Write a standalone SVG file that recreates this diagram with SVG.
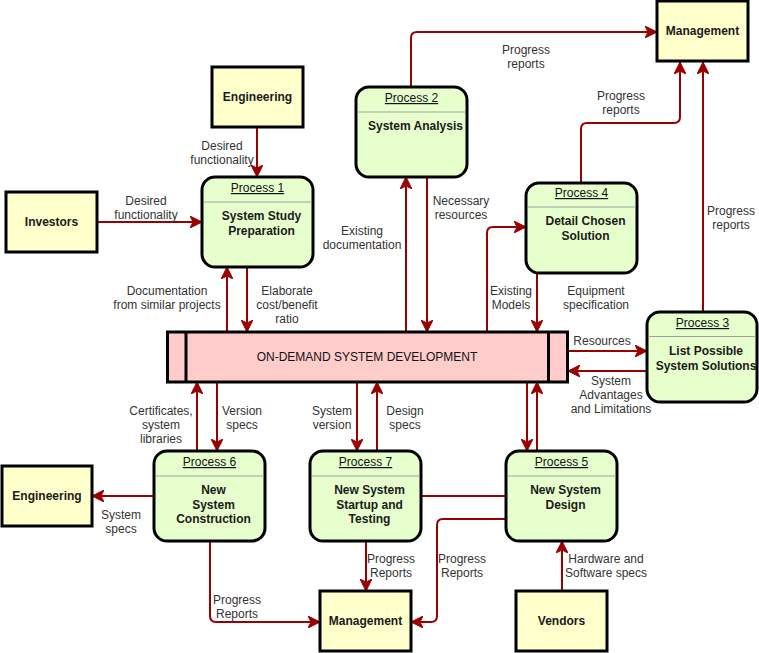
<svg xmlns="http://www.w3.org/2000/svg" width="759" height="653" viewBox="0 0 759 653">
<style>
.ext{fill:#FFFFCC;stroke:#000;stroke-width:3}
.proc{fill:#E6FFCC;stroke:#000;stroke-width:3}
.ods{fill:#FFCCCC;stroke:#000;stroke-width:3}
.sep{stroke:#A0A0A0;stroke-width:1}
.bar{stroke:#000;stroke-width:3}
.nt{font-family:"Liberation Sans",Arial,sans-serif;font-size:12px;font-weight:bold;fill:#1a1a1a;text-anchor:middle}
.pt{font-family:"Liberation Sans",Arial,sans-serif;font-size:12px;fill:#111;text-anchor:middle;text-decoration:underline}
.ot{font-family:"Liberation Sans",Arial,sans-serif;font-size:12px;fill:#111;text-anchor:middle}
.lb{font-family:"Liberation Sans",Arial,sans-serif;font-size:12px;fill:#333;text-anchor:middle}
.c{fill:none;stroke:#990000;stroke-width:2}
</style>
<defs>
<marker id="ah" markerUnits="userSpaceOnUse" markerWidth="12" markerHeight="12" refX="12" refY="6" orient="auto">
<path d="M0,0 L12,6 L0,12 L3,6 z" fill="#990000" stroke="#990000" stroke-width="1"/>
</marker>
</defs>

<g id="connectors">
<path class="c" d="M257,128 V177" marker-end="url(#ah)"/>
<path class="c" d="M97,222 H202" marker-end="url(#ah)"/>
<path class="c" d="M227,332 V267" marker-end="url(#ah)"/>
<path class="c" d="M247,267 V332" marker-end="url(#ah)"/>
<path class="c" d="M406,332 V177" marker-end="url(#ah)"/>
<path class="c" d="M427,177 V332" marker-end="url(#ah)"/>
<path class="c" d="M411,87 V38 Q411,32 417,32 H657" marker-end="url(#ah)"/>
<path class="c" d="M487,332 V233 Q487,227 493,227 H526" marker-end="url(#ah)"/>
<path class="c" d="M537,273 V332" marker-end="url(#ah)"/>
<path class="c" d="M581,183 V129 Q581,123 587,123 H674 Q680,123 680,117 V62" marker-end="url(#ah)"/>
<path class="c" d="M703,312 V62" marker-end="url(#ah)"/>
<path class="c" d="M568,351 H647" marker-end="url(#ah)"/>
<path class="c" d="M647,371 H568" marker-end="url(#ah)"/>
<path class="c" d="M197,451 V382" marker-end="url(#ah)"/>
<path class="c" d="M217,382 V451" marker-end="url(#ah)"/>
<path class="c" d="M357,382 V451" marker-end="url(#ah)"/>
<path class="c" d="M377,451 V382" marker-end="url(#ah)"/>
<path class="c" d="M527,382 V451" marker-end="url(#ah)"/>
<path class="c" d="M537,451 V382" marker-end="url(#ah)"/>
<path class="c" d="M154,496 H92" marker-end="url(#ah)"/>
<path class="c" d="M210,541 V616 Q210,622 216,622 H320" marker-end="url(#ah)"/>
<path class="c" d="M366,541 V591" marker-end="url(#ah)"/>
<path class="c" d="M421,496 H506"/>
<path class="c" d="M506,519 H443 Q437,519 437,525 V616 Q437,622 431,622 H411" marker-end="url(#ah)"/>
<path class="c" d="M562,591 V541" marker-end="url(#ah)"/>

<text class="lb" x="222" y="150">Desired</text>
<text class="lb" x="222" y="164">functionality</text>
<text class="lb" x="146" y="205">Desired</text>
<text class="lb" x="146" y="219">functionality</text>
<text class="lb" x="167" y="295">Documentation</text>
<text class="lb" x="167" y="309">from similar projects</text>
<text class="lb" x="287" y="295">Elaborate</text>
<text class="lb" x="287" y="309">cost/benefit</text>
<text class="lb" x="287" y="323">ratio</text>
<text class="lb" x="362" y="235">Existing</text>
<text class="lb" x="362" y="249">documentation</text>
<text class="lb" x="461" y="205">Necessary</text>
<text class="lb" x="461" y="219">resources</text>
<text class="lb" x="526" y="54">Progress</text>
<text class="lb" x="526" y="68">reports</text>
<text class="lb" x="621" y="100">Progress</text>
<text class="lb" x="621" y="114">reports</text>
<text class="lb" x="731" y="215">Progress</text>
<text class="lb" x="731" y="229">reports</text>
<text class="lb" x="511" y="295">Existing</text>
<text class="lb" x="511" y="309">Models</text>
<text class="lb" x="596" y="295">Equipment</text>
<text class="lb" x="596" y="309">specification</text>
<text class="lb" x="602" y="345">Resources</text>
<text class="lb" x="611" y="385">System</text>
<text class="lb" x="611" y="399">Advantages</text>
<text class="lb" x="611" y="413">and Limitations</text>
<text class="lb" x="161" y="415">Certificates,</text>
<text class="lb" x="161" y="429">system</text>
<text class="lb" x="161" y="443">libraries</text>
<text class="lb" x="242" y="415">Version</text>
<text class="lb" x="242" y="429">specs</text>
<text class="lb" x="332" y="415">System</text>
<text class="lb" x="332" y="429">version</text>
<text class="lb" x="405" y="415">Design</text>
<text class="lb" x="405" y="429">specs</text>
<text class="lb" x="121" y="519">System</text>
<text class="lb" x="121" y="533">specs</text>
<text class="lb" x="237" y="604">Progress</text>
<text class="lb" x="237" y="618">Reports</text>
<text class="lb" x="391" y="563">Progress</text>
<text class="lb" x="391" y="577">Reports</text>
<text class="lb" x="462" y="563">Progress</text>
<text class="lb" x="462" y="577">Reports</text>
<text class="lb" x="606" y="563">Hardware and</text>
<text class="lb" x="606" y="577">Software specs</text>
</g>

<g id="mgmt-top">
<rect class="ext" x="657" y="1" width="91" height="60"/>
<text class="nt" x="702.5" y="35">Management</text>
</g>
<g id="eng-top">
<rect class="ext" x="212" y="67" width="91" height="60"/>
<text class="nt" x="257.5" y="101">Engineering</text>
</g>
<g id="investors">
<rect class="ext" x="6" y="192" width="91" height="60"/>
<text class="nt" x="51.5" y="226">Investors</text>
</g>
<g id="eng-bottom">
<rect class="ext" x="2" y="466" width="90" height="60"/>
<text class="nt" x="47" y="500">Engineering</text>
</g>
<g id="mgmt-bottom">
<rect class="ext" x="320" y="591" width="91" height="60"/>
<text class="nt" x="365.5" y="625">Management</text>
</g>
<g id="vendors">
<rect class="ext" x="516" y="591" width="91" height="60"/>
<text class="nt" x="561.5" y="625">Vendors</text>
</g>

<g id="ods">
<rect class="ods" x="167.5" y="332" width="400" height="50"/>
<line class="bar" x1="186" y1="332" x2="186" y2="382"/>
<line class="bar" x1="548.5" y1="332" x2="548.5" y2="382"/>
<text class="ot" x="367" y="361">ON-DEMAND SYSTEM DEVELOPMENT</text>
</g>

<g id="process1">
<rect class="proc" x="202" y="177" width="111" height="90" rx="13"/>
<line class="sep" x1="203.5" y1="202" x2="311.5" y2="202"/>
<text class="pt" x="257.5" y="192">Process 1</text>
<text class="nt" x="261.5" y="220">System Study</text>
<text class="nt" x="261.5" y="235">Preparation</text>
</g>
<g id="process2">
<rect class="proc" x="356" y="87" width="111" height="90" rx="13"/>
<line class="sep" x1="357.5" y1="112" x2="465.5" y2="112"/>
<text class="pt" x="411.5" y="102">Process 2</text>
<text class="nt" x="415.5" y="130">System Analysis</text>
</g>
<g id="process4">
<rect class="proc" x="526" y="183" width="111" height="90" rx="13"/>
<line class="sep" x1="527.5" y1="207" x2="635.5" y2="207"/>
<text class="pt" x="581.5" y="197">Process 4</text>
<text class="nt" x="585.5" y="225">Detail Chosen</text>
<text class="nt" x="585.5" y="240">Solution</text>
</g>
<g id="process3">
<rect class="proc" x="647" y="312" width="110" height="90" rx="13"/>
<line class="sep" x1="648.5" y1="336.5" x2="755.5" y2="336.5"/>
<text class="pt" x="702.5" y="327">Process 3</text>
<text class="nt" x="706" y="355">List Possible</text>
<text class="nt" x="706" y="370">System Solutions</text>
</g>
<g id="process6">
<rect class="proc" x="154" y="451" width="111" height="90" rx="13"/>
<line class="sep" x1="155.5" y1="476" x2="263.5" y2="476"/>
<text class="pt" x="209.5" y="466">Process 6</text>
<text class="nt" x="213.5" y="494">New</text>
<text class="nt" x="213.5" y="509">System</text>
<text class="nt" x="213.5" y="523">Construction</text>
</g>
<g id="process7">
<rect class="proc" x="310" y="451" width="111" height="90" rx="13"/>
<line class="sep" x1="311.5" y1="476" x2="419.5" y2="476"/>
<text class="pt" x="365.5" y="466">Process 7</text>
<text class="nt" x="369.5" y="494">New System</text>
<text class="nt" x="369.5" y="509">Startup and</text>
<text class="nt" x="369.5" y="523">Testing</text>
</g>
<g id="process5">
<rect class="proc" x="506" y="451" width="111" height="90" rx="13"/>
<line class="sep" x1="507.5" y1="476" x2="615.5" y2="476"/>
<text class="pt" x="561.5" y="466">Process 5</text>
<text class="nt" x="565.5" y="494">New System</text>
<text class="nt" x="565.5" y="509">Design</text>
</g>
</svg>
